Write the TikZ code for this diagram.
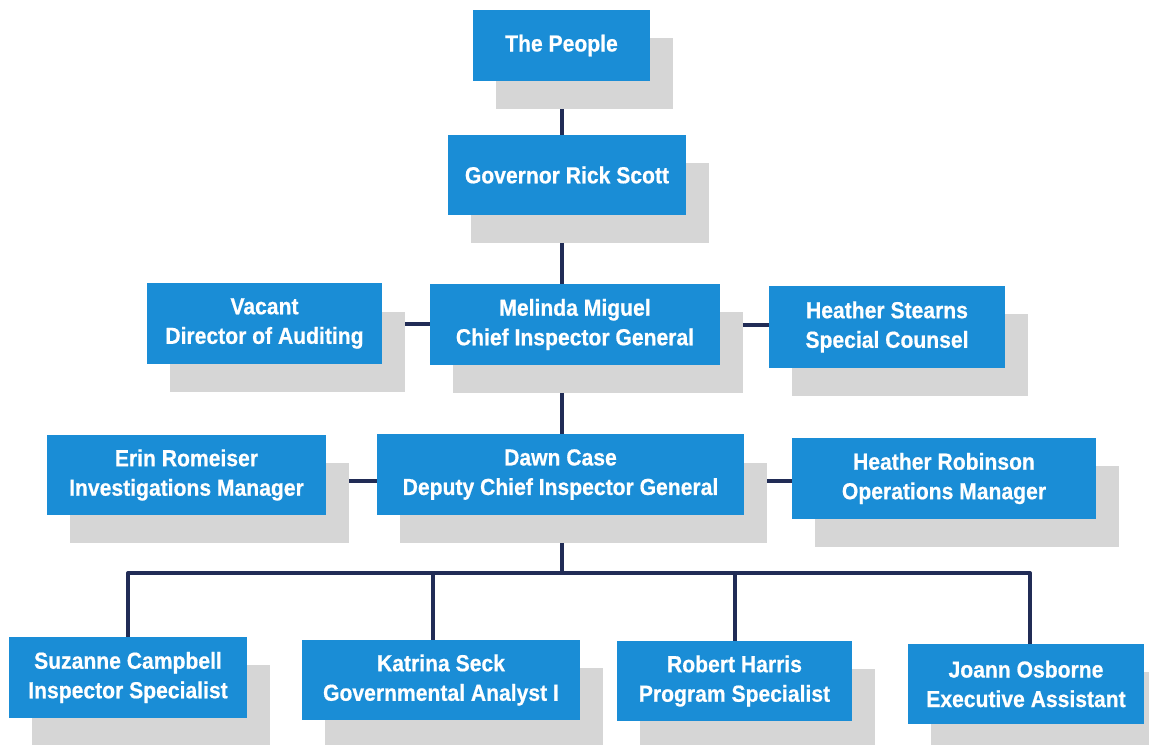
\documentclass[tikz,border=0pt]{standalone}
\usepackage{fontspec}
\newfontfamily\orgfont[FakeStretch=0.91, FakeBold=0.6]{Liberation Sans}
\usetikzlibrary{shadows, backgrounds, positioning}

\begin{document}
\begin{tikzpicture}[
    x=0.025cm, y=-0.025cm,
    every node/.style={font=\orgfont\bfseries\fontsize{16.5}{21}\selectfont, align=center, text=white},
    post/.style={
      rectangle, fill=boxBlue, inner sep=0pt,
      drop shadow={shadow xshift=0.575cm, shadow yshift=-0.7cm, fill=shadowGray, opacity=1}
    },
    link/.style={draw=linkNavy, line width=0.1cm, line join=round}
  ]
    \definecolor{boxBlue}{RGB}{26,141,214}
    \definecolor{shadowGray}{RGB}{214,214,214}
    \definecolor{linkNavy}{RGB}{33,44,86}

    \useasboundingbox (0,0) rectangle (1149,744);

    % top of the chart
    \node[post, minimum width=4.43cm, minimum height=1.78cm] (people) at (561.5,45.5) {The People};
    \node[post, minimum width=5.95cm, minimum height=2.00cm] (governor) at (567,175) {Governor Rick Scott};

    % inspector general row
    \node[post, minimum width=5.88cm, minimum height=2.00cm] (vacant) at (264.5,323.5) {Vacant\\Director of Auditing};
    \node[post, minimum width=7.25cm, minimum height=2.03cm] (melinda) at (575,324.5) {Melinda Miguel\\Chief Inspector General};
    \node[post, minimum width=5.90cm, minimum height=2.05cm] (stearns) at (887,327) {Heather Stearns\\Special Counsel};

    % deputy row
    \node[post, minimum width=6.98cm, minimum height=2.00cm] (erin) at (186.5,475) {Erin Romeiser\\Investigations Manager};
    \node[post, minimum width=9.18cm, minimum height=2.00cm] (dawn) at (560.5,474.5) {Dawn Case\\Deputy Chief Inspector General};
    \node[post, minimum width=7.60cm, minimum height=2.03cm] (robinson) at (944,478.5) {Heather Robinson\\Operations Manager};

    % staff row
    \node[post, minimum width=5.93cm, minimum height=2.03cm] (suzanne) at (128,677.5) {Suzanne Campbell\\Inspector Specialist};
    \node[post, minimum width=6.93cm, minimum height=2.00cm] (katrina) at (441,680) {Katrina Seck\\Governmental Analyst I};
    \node[post, minimum width=5.88cm, minimum height=2.00cm] (robert) at (734.5,681) {Robert Harris\\Program Specialist};
    \node[post, minimum width=5.90cm, minimum height=2.00cm] (joann) at (1026,684) {Joann Osborne\\Executive Assistant};

    \begin{scope}[on background layer]
      \fill[white] (0,0) rectangle (1149,744);
      \coordinate (spine) at (562,0);
      \coordinate (midrow) at (0,481);
      \coordinate (bus) at (0,573);
      \coordinate (katrinaTop) at ([xshift=-0.2cm]katrina.north);
      \coordinate (joannTop) at ([xshift=0.1cm]joann.north);

      \draw[link] (spine |- people.south) -- (spine |- governor.north);
      \draw[link] (spine |- governor.south) -- (spine |- melinda.north);
      \draw[link] (spine |- melinda.south) -- (spine |- dawn.north);
      \draw[link] (vacant.east) -- (vacant.east -| melinda.west);
      \draw[link] (melinda.east) -- (melinda.east -| stearns.west);
      \draw[link] (erin.east |- midrow) -- (dawn.west |- midrow);
      \draw[link] (dawn.east |- midrow) -- (robinson.west |- midrow);
      \draw[link] (spine |- dawn.south) -- (spine |- bus);
      \draw[link] (suzanne.north) -- (suzanne.north |- bus) -- (joannTop |- bus) -- (joannTop);
      \draw[link] (katrinaTop |- bus) -- (katrinaTop);
      \draw[link] (robert.north |- bus) -- (robert.north);
    \end{scope}
  \end{tikzpicture}
\end{document}
